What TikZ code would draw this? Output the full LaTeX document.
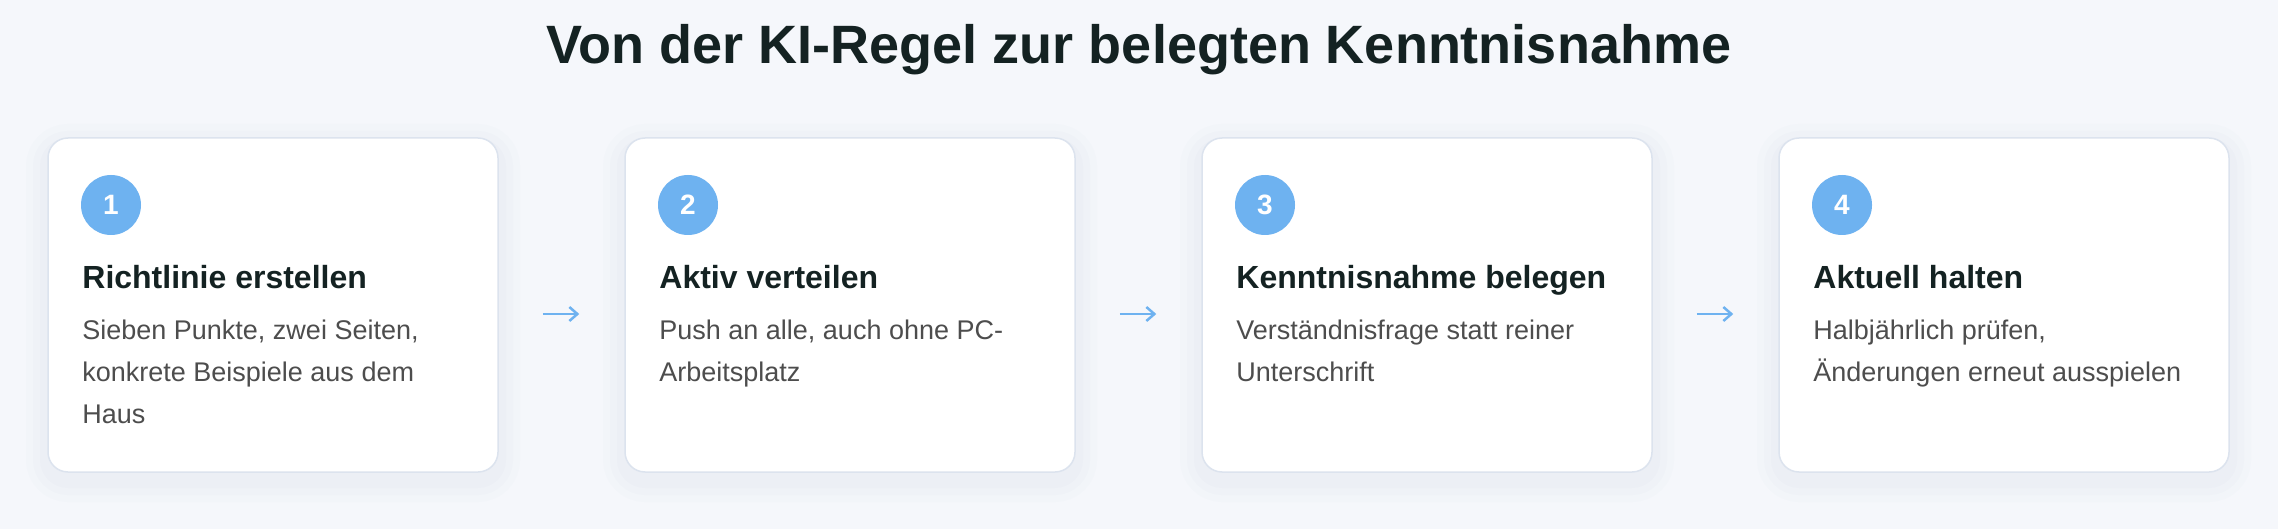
\documentclass[tikz,border=0pt]{standalone}
\usepackage{fontspec}
\setmainfont{Liberation Sans}
\usetikzlibrary{arrows.meta}

\newlength{\du}
\setlength{\du}{0.5pt}

\definecolor{pagebg}{HTML}{F5F7FB}
\definecolor{cardline}{HTML}{DCE3EE}
\definecolor{cardshade}{HTML}{7088B8}
\definecolor{stepblue}{HTML}{6EB2F0}
\definecolor{headink}{HTML}{142222}
\definecolor{bodyink}{HTML}{4D4D4D}

\tikzset{
  card/.style={draw=cardline, line width=1.5\du, fill=white, rounded corners=20\du,
    minimum width=450\du, minimum height=334\du, inner sep=0pt,
    preaction={draw=cardshade, line width=44\du, opacity=0.015, transform canvas={yshift=-4pt}},
    preaction={draw=cardshade, line width=30\du, opacity=0.02, transform canvas={yshift=-4pt}},
    preaction={draw=cardshade, line width=16\du, opacity=0.025, transform canvas={yshift=-4pt}}},
  stepnum/.style={circle, fill=stepblue, text=white, minimum size=60\du, inner sep=0pt,
    font=\fontsize{28\du}{28\du}\selectfont\bfseries},
  cardhead/.style={anchor=base west, inner sep=0pt, text=headink,
    font=\fontsize{32\du}{38\du}\selectfont\bfseries},
  cardtext/.style={anchor=base west, inner sep=0pt, align=left, text=bodyink,
    font=\fontsize{27\du}{42\du}\selectfont},
  flow/.style={draw=stepblue, line width=1.25pt, -{Straight Barb[length=4pt,width=7pt]},
    shorten <=22pt, shorten >=22.5pt},
}

\begin{document}
\begin{tikzpicture}
\pgftransformxscale{1.000000}
\pgftransformyscale{-1.000000}
\fill[pagebg] (0\du,0\du) rectangle (2278\du,529\du);
\useasboundingbox (0\du,0\du) rectangle (2278\du,529\du);
% title
\node[anchor=base, inner sep=0pt, text=headink, font=\fontsize{54\du}{60\du}\selectfont\bfseries]
  (title) at (1139\du,64\du) {Von der KI-Regel zur belegten Kenntnisnahme};
% step 1 (text nodes sit on the baseline of their last line)
\node[card] (c1) at (273\du,305\du) {};
\node[stepnum] (n1) at (111\du,205\du) {1};
\node[cardhead] (h1) at (82\du,288\du) {Richtlinie erstellen};
\node[cardtext] (t1) at (82\du,423\du) {Sieben Punkte, zwei Seiten,\\konkrete Beispiele aus dem\\Haus};
% step 2
\node[card] (c2) at (850\du,305\du) {};
\node[stepnum] (n2) at (688\du,205\du) {2};
\node[cardhead] (h2) at (659\du,288\du) {Aktiv verteilen};
\node[cardtext] (t2) at (659\du,381\du) {Push an alle, auch ohne PC-\\Arbeitsplatz};
% step 3
\node[card] (c3) at (1427\du,305\du) {};
\node[stepnum] (n3) at (1265\du,205\du) {3};
\node[cardhead] (h3) at (1236\du,288\du) {Kenntnisnahme belegen};
\node[cardtext] (t3) at (1236\du,381\du) {Verständnisfrage statt reiner\\Unterschrift};
% step 4
\node[card] (c4) at (2004\du,305\du) {};
\node[stepnum] (n4) at (1842\du,205\du) {4};
\node[cardhead] (h4) at (1813\du,288\du) {Aktuell halten};
\node[cardtext] (t4) at (1813\du,381\du) {Halbjährlich prüfen,\\Änderungen erneut ausspielen};
% arrows
\draw[flow] ([yshift=4.5pt]c1.east) -- ([yshift=4.5pt]c2.west);
\draw[flow] ([yshift=4.5pt]c2.east) -- ([yshift=4.5pt]c3.west);
\draw[flow] ([yshift=4.5pt]c3.east) -- ([yshift=4.5pt]c4.west);
\end{tikzpicture}
\end{document}
